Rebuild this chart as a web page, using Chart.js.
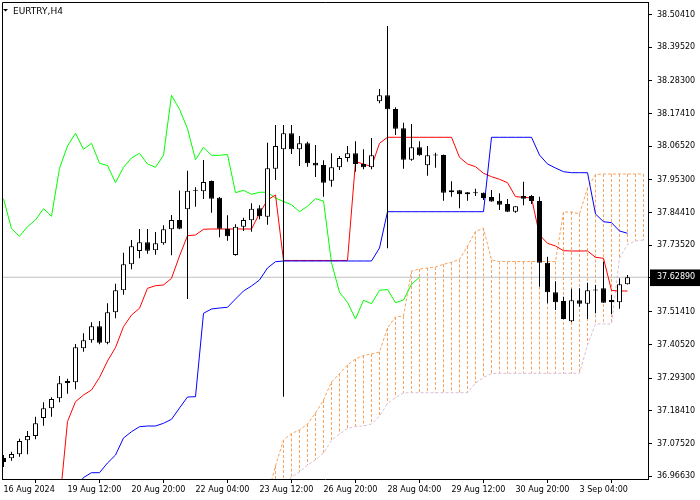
<!DOCTYPE html>
<html>
<head>
<meta charset="utf-8">
<title>EURTRY,H4</title>
<script src="https://cdn.jsdelivr.net/npm/chart.js@4.4.1/dist/chart.umd.min.js"></script>
<style>
  html, body { margin: 0; padding: 0; background: #fff; }
  #chart { display: block; }
</style>
</head>
<body>
<canvas id="chart" width="700" height="500"></canvas>
<script>
// EURTRY H4 bars, index 0 = first visible bar (16 Aug 2024)
const opens = [
  37.0269, 37.0259, 37.0393, 37.0859, 37.1002, 37.1602, 37.1925, 37.2258, 37.2767, 37.2791,
  37.3923, 37.4190, 37.4656, 37.4110, 37.5122, 37.5855, 37.6721, 37.7164, 37.7454, 37.7187,
  37.7420, 37.7887, 37.8197, 37.8553, 37.9172, 37.9152, 37.9495, 37.8939, 37.7897, 37.7031,
  37.7973, 37.8187, 37.8586, 37.8306, 37.9905, 38.0551, 38.1084, 38.0551, 38.0751, 38.0105,
  38.0028, 37.9505, 37.9952, 38.0262, 38.0418, 38.0062, 37.9952, 38.2150, 38.2350, 38.1894,
  38.1251, 38.0205, 38.0618, 38.0018, 38.0345, 38.0361, 37.9119, 37.9186, 37.9052, 37.9089,
  37.9106, 37.8963, 37.8839, 37.8729, 37.8473, 37.8996, 37.8996, 37.8829, 37.6774, 37.5788,
  37.5499, 37.4823, 37.5522, 37.5409, 37.5848, 37.5922, 37.5465, 37.5455, 37.6055
];
const highs = [
  37.0369, 37.0479, 37.0912, 37.1169, 37.1645, 37.2125, 37.2291, 37.3001, 37.2911, 37.4066,
  37.4423, 37.4789, 37.4833, 37.5422, 37.6075, 37.7107, 37.7530, 37.7897, 37.7897, 37.7797,
  37.8020, 37.8363, 37.9179, 37.9839, 37.9286, 38.0195, 37.9512, 37.8963, 37.8353, 37.8053,
  37.8273, 37.8753, 37.8686, 38.0771, 38.1361, 38.1361, 38.1361, 38.0994, 38.0804, 38.0695,
  38.0185, 38.0418, 38.0328, 38.0661, 38.0818, 38.0551, 38.0928, 38.2560, 38.4658, 38.1950,
  38.1437, 38.1394, 38.0818, 38.0661, 38.0438, 38.0378, 37.9485, 37.9196, 37.9129, 37.9239,
  37.9112, 37.9196, 37.9086, 37.8896, 37.8653, 37.9472, 37.9029, 37.8973, 37.6974, 37.6155,
  37.5642, 37.5908, 37.5922, 37.6108, 37.6032, 37.6808, 37.5698, 37.6255, 37.6365
];
const lows = [
  36.9970, 37.0180, 37.0313, 37.0393, 37.0892, 37.1345, 37.1645, 37.2125, 37.2411, 37.2558,
  37.3810, 37.4110, 37.4056, 37.4056, 37.4922, 37.5708, 37.6554, 37.6921, 37.7074, 37.7041,
  37.7374, 37.7021, 37.7887, 37.5565, 37.8639, 37.8896, 37.8440, 37.7620, 37.7507, 37.7007,
  37.7830, 37.7807, 37.8220, 37.8040, 37.9529, 37.2311, 38.0395, 37.9995, 37.9972, 37.9629,
  37.8973, 37.9306, 37.9862, 38.0138, 37.9805, 37.9885, 37.9885, 38.2083, 37.7254, 38.1028,
  37.9905, 38.0172, 38.0335, 37.9672, 37.9938, 37.8839, 37.8973, 37.8586, 37.8839, 37.8996,
  37.8863, 37.8806, 37.8530, 37.8463, 37.8440, 37.8686, 37.8729, 37.5975, 37.5422, 37.5199,
  37.4889, 37.4799, 37.5309, 37.4899, 37.5089, 37.5432, 37.5066, 37.5242, 37.6048
];
const closes = [
  37.0136, 37.0403, 37.0836, 37.1002, 37.1425, 37.1925, 37.2235, 37.2757, 37.2834, 37.3957,
  37.4190, 37.4656, 37.4110, 37.5122, 37.5855, 37.6721, 37.7321, 37.7454, 37.7174, 37.7420,
  37.7887, 37.8197, 37.7907, 37.9172, 37.9196, 37.9462, 37.8906, 37.7907, 37.7654, 37.7973,
  37.8197, 37.8573, 37.8320, 37.9918, 38.0661, 38.1084, 38.0551, 38.0751, 38.0085, 38.0012,
  37.9439, 37.9952, 38.0262, 38.0418, 38.0062, 37.9952, 38.0351, 38.2350, 38.1884, 38.1237,
  38.0205, 38.0618, 38.0351, 38.0351, 38.0378, 37.9106, 37.9186, 37.9052, 37.9119, 37.9122,
  37.8929, 37.8813, 37.8706, 37.8473, 37.8653, 37.8906, 37.8829, 37.6774, 37.5788, 37.5455,
  37.4899, 37.5522, 37.5409, 37.5855, 37.5882, 37.5442, 37.5532, 37.6055, 37.6289
];

// Ichimoku lines (null = not drawn in view)
const tenkan = [
  null, null, null, null, null, null, null, 36.8704, 37.1485, 37.2145,
  37.2368, 37.2534, 37.2951, 37.3500, 37.3950, 37.4643, 37.5032, 37.5255, 37.5922, 37.6008,
  37.6032, 37.6255, 37.6997, 37.7674, 37.7697, 37.7887, 37.7897, 37.7897, 37.7897, 37.7897,
  37.7897, 37.7897, 37.8420, 37.8863, 37.9029, 37.6848, 37.6848, 37.6848, 37.6848, 37.6848,
  37.6848, 37.6848, 37.6848, 37.6848, 38.0138, 38.0062, 37.9972, 38.0751, 38.0951, 38.0951,
  38.0951, 38.0951, 38.0951, 38.0951, 38.0951, 38.0951, 38.0951, 38.0285, 38.0062, 37.9972,
  37.9752, 37.9639, 37.9552, 37.9439, 37.8973, 37.8953, 37.8929, 37.7697, 37.7420, 37.7331,
  37.7174, 37.7164, 37.7164, 37.7164, 37.6954, 37.6921, 37.5849, 37.5832, 37.5832
];
const kijun = [
  null, null, null, null, null, null, null, null, null, 36.9204,
  36.9620, 36.9780, 36.9780, 37.0103, 37.0369, 37.0936, 37.1145, 37.1312, 37.1335, 37.1335,
  37.1425, 37.1558, 37.1935, 37.2301, 37.2311, 37.5089, 37.5232, 37.5265, 37.5289, 37.5565,
  37.5832, 37.5998, 37.6198, 37.6598, 37.6808, 37.6831, 37.6831, 37.6831, 37.6831, 37.6831,
  37.6831, 37.6831, 37.6831, 37.6831, 37.6831, 37.6831, 37.6831, 37.7264, 37.8473, 37.8473,
  37.8473, 37.8473, 37.8473, 37.8473, 37.8473, 37.8473, 37.8473, 37.8473, 37.8473, 37.8473,
  37.8473, 38.0951, 38.0951, 38.0951, 38.0951, 38.0951, 38.0951, 38.0361, 38.0062, 37.9928,
  37.9805, 37.9772, 37.9772, 37.9772, 37.8396, 37.8140, 37.8107, 37.7830, 37.7754
];
// senkou spans run two bars past the last candle
const spanA = [
  null, null, null, null, null, null, null, null, null, null,
  null, null, null, null, null, null, null, null, null, null,
  null, null, null, null, null, null, null, null, null, null,
  null, null, null, 36.9037, 37.0003, 37.0869, 37.1085, 37.1202, 37.1402, 37.1768,
  37.2201, 37.2801, 37.3084, 37.3367, 37.3567, 37.3683, 37.3733, 37.3800, 37.4599, 37.4966,
  37.4999, 37.6498, 37.6564, 37.6598, 37.6631, 37.6721, 37.6788, 37.6881, 37.7331, 37.7813,
  37.7920, 37.6864, 37.6814, 37.6814, 37.6814, 37.6814, 37.6814, 37.6814, 37.6814, 37.6814,
  37.8463, 37.8463, 37.8396, 37.9262, 37.9712, 37.9729, 37.9729, 37.9729, 37.9729, 37.9729,
  37.9729
];
const spanB = [
  null, null, null, null, null, null, null, null, null, null,
  null, null, null, null, null, null, null, null, null, null,
  null, null, null, null, null, null, null, null, null, null,
  null, null, null, null, 36.8871, 36.9304, 36.9637, 36.9803, 37.0036, 37.0203,
  37.0436, 37.0852, 37.1069, 37.1252, 37.1319, 37.1335, 37.1402, 37.1668, 37.2085, 37.2285,
  37.2434, 37.2444, 37.2444, 37.2444, 37.2444, 37.2444, 37.2444, 37.2444, 37.2444, 37.2767,
  37.2951, 37.3084, 37.3090, 37.3090, 37.3090, 37.3090, 37.3090, 37.3090, 37.3090, 37.3090,
  37.3090, 37.3090, 37.3090, 37.4033, 37.4733, 37.4733, 37.4733, 37.6931, 37.7380, 37.7497,
  37.7530
];
const chikouShift = 26;   // chikou = close plotted 26 bars back
const lastPrice = 37.6289;

const xTickIdx = [0, 8, 16, 24, 32, 40, 48, 56, 64, 72];
const xTickLabels = ['16 Aug 2024', '19 Aug 12:00', '20 Aug 20:00', '22 Aug 04:00', '23 Aug 12:00',
  '26 Aug 20:00', '28 Aug 04:00', '29 Aug 12:00', '30 Aug 20:00', '3 Sep 04:00'];
const yTickValues = [36.9663, 37.0752, 37.1841, 37.2930, 37.4052, 37.5141, 37.7352,
  37.8441, 37.9530, 38.0652, 38.1741, 38.2830, 38.3952, 38.5041];

document.addEventListener('DOMContentLoaded', function() {
    const xMin = -0.1875, xMax = 80.5625;
    const yMin = 36.9570, yMax = 38.5457;
    const font = { family: '"DejaVu Sans"', size: 8 };

    const pts = arr => arr.map((v, i) => ({ x: i, y: v }));
    const bodyData = opens.map((o, i) => ({ x: i, y: [o, closes[i]] }));
    const wickData = highs.map((h, i) => ({ x: i, y: [lows[i], h] }));
    const bodyColors = opens.map((o, i) => closes[i] >= o ? '#ffffff' : '#000000');
    const chikou = closes.slice(chikouShift).map((v, i) => ({ x: i, y: v }));

    // kumo hatch: one dashed vertical per bar between the two spans
    const hatch = [];
    spanA.forEach((a, i) => {
        const b = spanB[i];
        if (a == null || b == null) return;
        hatch.push({ x: i, y: a }, { x: i, y: b }, { x: i, y: null });
    });

    const frame = {
        id: 'frame',
        afterDraw(chart) {
            const c = chart.ctx, a = chart.chartArea;
            c.save();
            c.strokeStyle = '#000';
            c.lineWidth = 1;
            c.beginPath();
            c.moveTo(a.left + 0.5, a.bottom);
            c.lineTo(a.left + 0.5, a.top + 0.5);
            c.lineTo(a.right, a.top + 0.5);
            c.stroke();
            c.fillStyle = '#000';
            c.beginPath();
            c.moveTo(3, 9); c.lineTo(8, 9); c.lineTo(5.5, 11.5);
            c.closePath();
            c.fill();
            c.font = '9px "DejaVu Sans"';
            c.textBaseline = 'alphabetic';
            c.fillText('EURTRY,H4', 13, 14);
            c.restore();
        }
    };

    const lineDs = (label, data, color, order, dash) => ({
        label: label, data: data, borderColor: color, borderWidth: 1,
        borderDash: dash || [], pointRadius: 0, tension: 0, fill: false, order: order
    });

    new Chart(document.getElementById('chart').getContext('2d'), {
        type: 'line',
        data: {
            datasets: [
                { type: 'bar', label: 'body', data: bodyData, backgroundColor: bodyColors,
                  borderColor: '#000', borderWidth: 1, borderSkipped: false,
                  barThickness: 5, grouped: false, inflateAmount: 0, order: 1 },
                { type: 'bar', label: 'wick', data: wickData, backgroundColor: '#000',
                  borderWidth: 0, barThickness: 1, grouped: false, inflateAmount: 0, order: 2 },
                lineDs('Kijun', pts(kijun), '#0000ff', 3),
                lineDs('Tenkan', pts(tenkan), '#ff0000', 4),
                lineDs('Chikou', chikou, '#00ff00', 5),
                lineDs('Bid', [{ x: xMin, y: lastPrice }, { x: xMax, y: lastPrice }], '#c0c0c0', 6),
                lineDs('Span B', pts(spanB), '#d8bfd8', 7, [3, 2]),
                lineDs('Span A', pts(spanA), '#f4a460', 8, [3, 2]),
                lineDs('Kumo', hatch, '#f4a460', 9, [3, 2])
            ]
        },
        options: {
            responsive: false,
            animation: false,
            devicePixelRatio: 1,
            events: [],
            layout: { padding: { left: 2, top: 2, right: 0, bottom: 0 }, autoPadding: false },
            plugins: { legend: { display: false }, tooltip: { enabled: false } },
            scales: {
                x: {
                    type: 'linear', min: xMin, max: xMax, offset: false,
                    afterBuildTicks: s => { s.ticks = xTickIdx.map(v => ({ value: v })); },
                    afterFit: s => { s.height = 21; s.paddingLeft = 0; s.paddingRight = 0; },
                    grid: { drawOnChartArea: false, drawTicks: true, tickLength: 4, color: '#000' },
                    border: { display: true, color: '#000', width: 1 },
                    ticks: {
                        autoSkip: false, maxRotation: 0, minRotation: 0, align: 'start',
                        padding: 2, color: '#000', font: font,
                        callback: (v, i) => xTickLabels[i]
                    }
                },
                y: {
                    type: 'linear', position: 'right', min: yMin, max: yMax,
                    afterBuildTicks: s => {
                        s.ticks = yTickValues.concat([lastPrice]).sort((a, b) => a - b).map(v => ({ value: v }));
                    },
                    afterFit: s => { s.width = 52; s.paddingTop = 0; s.paddingBottom = 0; },
                    grid: { drawOnChartArea: false, drawTicks: true, tickLength: 4, color: '#000' },
                    border: { display: true, color: '#000', width: 1 },
                    ticks: {
                        autoSkip: false, padding: 5, font: font,
                        callback: v => v.toFixed(5),
                        color: c => (c.tick && c.tick.value === lastPrice) ? '#ffffff' : '#000000',
                        showLabelBackdrop: c => !!(c.tick && c.tick.value === lastPrice),
                        backdropColor: '#000000',
                        backdropPadding: { left: 7, right: 6, top: 3, bottom: 4 }
                    }
                }
            }
        },
        plugins: [frame]
    });
});
</script>
</body>
</html>
